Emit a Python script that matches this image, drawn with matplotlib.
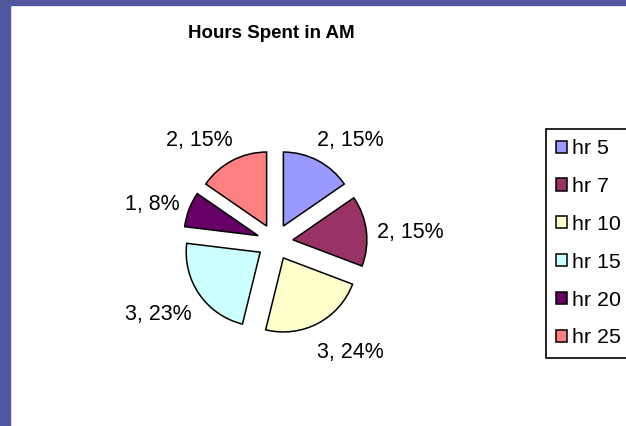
import matplotlib
matplotlib.use('Agg')
import matplotlib.pyplot as plt
from matplotlib.patches import Rectangle
import numpy as np

plt.rcParams['font.family'] = ['Liberation Sans', 'DejaVu Sans']

categories = ['hr 5', 'hr 7', 'hr 10', 'hr 15', 'hr 20', 'hr 25']
hours = [2, 2, 3, 3, 1, 2]
percent_labels = [15, 15, 24, 23, 8, 15]
colors = ['#9999FF', '#993366', '#FFFFCC', '#CCFFFF', '#660066', '#FF8080']
title = 'Hours Spent in AM'

W, H = 626, 426
R = 74.0      # pie radius in px
E = 18.0      # explosion in px
CX, CY = 275.0, 242.0  # pie centre in image px (y down)

fig = plt.figure(figsize=(W / 100, H / 100), dpi=100)
fig.patch.set_facecolor('white')
border = '#5058A0'
fig.patches.append(Rectangle((0, 0), 10 / W, 1, transform=fig.transFigure,
                             color=border, zorder=0))
fig.patches.append(Rectangle((0, 1 - 5 / H), 1, 5 / H, transform=fig.transFigure,
                             color=border, zorder=0))

ax = fig.add_axes([0, 0, 1, 1])
ax.set_facecolor('none')
wedges, _ = ax.pie(hours, colors=colors, radius=1, center=(CX / R, (H - CY) / R),
                   startangle=90, counterclock=False, explode=[E / R] * len(hours),
                   wedgeprops=dict(edgecolor='black', linewidth=1.1))
ax.set_xlim(0, W / R)
ax.set_ylim(0, H / R)
ax.set_aspect('auto')
ax.axis('off')

Lx, Ly = 1.3, 1.37
shift_x = 11.0 / R
shift_y = 4.5 / R
for w, v, p in zip(wedges, hours, percent_labels):
    th = np.deg2rad(0.5 * (w.theta1 + w.theta2))
    cx, cy = w.center
    x = cx + Lx * np.cos(th)
    y = cy + Ly * np.sin(th) - shift_y
    sgn = 1 if np.cos(th) >= 0 else -1
    x -= sgn * shift_x
    ax.text(x, y, f'{v}, {p}%', ha='left' if sgn > 0 else 'right', va='center',
            fontsize=15.5, color='black')

fig.text(271 / W, 1 - 33.5 / H, title, ha='center', va='center',
         fontsize=13.5, fontweight='bold')

leg = ax.legend(wedges, categories, loc='upper left',
                bbox_to_anchor=(546 / W, 1 - 129 / H), bbox_transform=fig.transFigure,
                borderaxespad=0, frameon=False, fontsize=15.4,
                handlelength=0.51, handleheight=0.51,
                handletextpad=0.23, labelspacing=0.88, borderpad=0.48)
leg.set_zorder(10)

# frame: Excel's legend box runs past the right edge of the chart
fig.canvas.draw()
bb = leg.get_window_extent().transformed(fig.transFigure.inverted())
frame = Rectangle((bb.x0, bb.y0), 1.2 - bb.x0, bb.height,
                  transform=fig.transFigure, facecolor='white',
                  edgecolor='black', linewidth=1.2, zorder=4, clip_on=False)
ax.add_patch(frame)

fig.savefig('out.png', dpi=100)
